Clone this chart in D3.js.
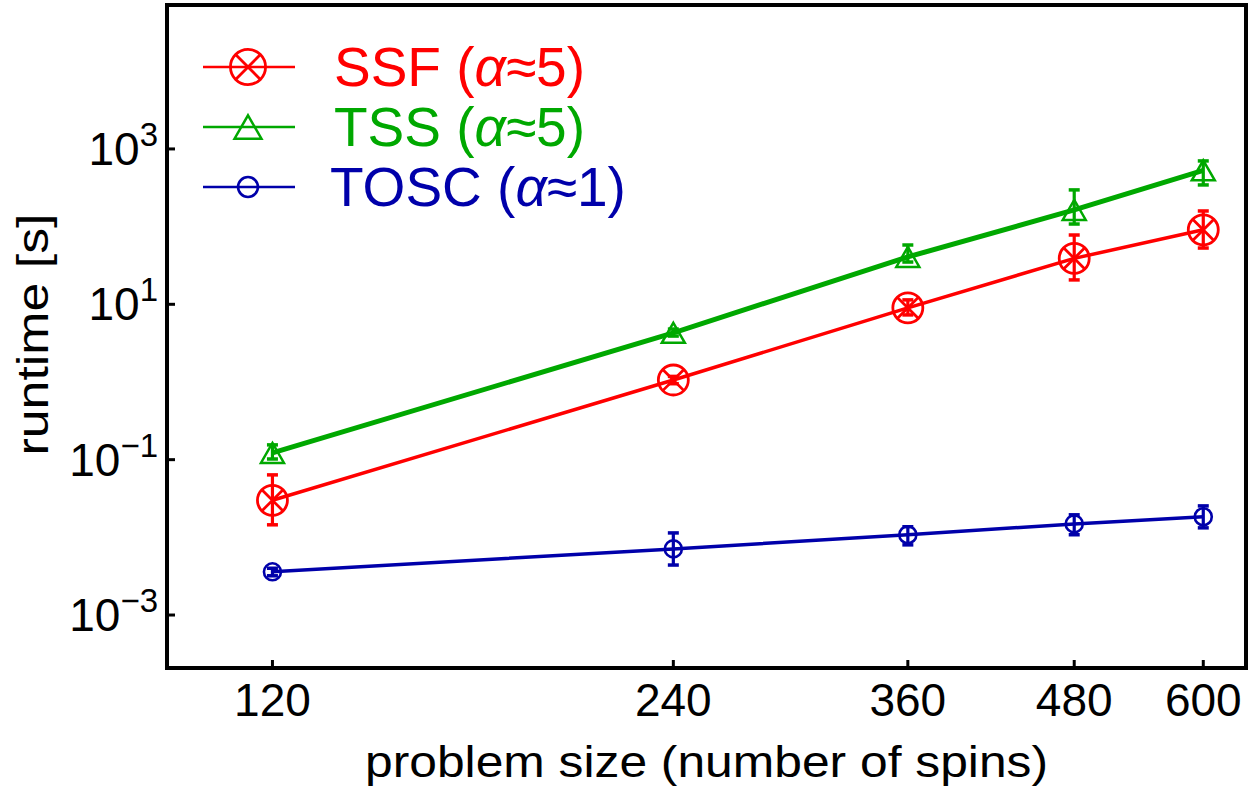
<!DOCTYPE html>
<html><head><meta charset="utf-8">
<script src="https://cdn.jsdelivr.net/npm/d3@7"></script>
<style>body{margin:0;background:#fff}svg{display:block}text{font-family:"Liberation Sans",Arial,sans-serif}</style>
</head><body><svg id="c" width="1250" height="790"></svg>
<script>
const sizes = [120, 240, 360, 480, 600];
const ssf    = [0.030, 1.06, 9.0, 39, 91];
const ssfLo  = [0.0145, 0.95, 7.3, 20.6, 53];
const ssfHi  = [0.0637, 1.18, 11.4, 78, 159];
const tss    = [0.122, 4.3, 40.7, 164, 530];
const tssLo  = [0.102, 3.9, 35, 108, 344];
const tssHi  = [0.155, 4.8, 58, 297, 701];
const tosc   = [0.0036, 0.0071, 0.0108, 0.0149, 0.0184];
const toscLo = [0.0032, 0.0044, 0.0080, 0.0108, 0.01325];
const toscHi = [0.0040, 0.0114, 0.0137, 0.0195, 0.0254];
const yTickExps = [-3, -1, 1, 3];
const xTicks = [120, 240, 360, 480, 600];
const seriesNames = ["SSF", "TSS", "TOSC"];
const alphas = ["5", "5", "1"];

const svg = d3.select("#c");
const L = 167, R = 1246, T = 5, B = 668;
const x = d3.scaleLog().domain([100, 646]).range([L, R]);
const y = d3.scaleLog().domain([Math.pow(10, -3.682), Math.pow(10, 4.853)]).range([B, T]);

const series = [
  {name: seriesNames[0], v: ssf, lo: ssfLo, hi: ssfHi, color: "#ff0000", lw: 3.5, marker: "ox", a: alphas[0]},
  {name: seriesNames[1], v: tss, lo: tssLo, hi: tssHi, color: "#00a800", lw: 5, marker: "tri", a: alphas[1]},
  {name: seriesNames[2], v: tosc, lo: toscLo, hi: toscHi, color: "#0000aa", lw: 3.5, marker: "o", a: alphas[2]}
];

function drawMarker(g, type, color, s) {
  if (type === "ox") {
    const r = 15 * s;
    g.append("circle").attr("r", r).attr("fill", "none").attr("stroke", color).attr("stroke-width", 2.8);
    const d = r * Math.SQRT1_2;
    g.append("path").attr("d", `M${-d},${-d}L${d},${d}M${-d},${d}L${d},${-d}`).attr("stroke", color).attr("stroke-width", 2.8);
  } else if (type === "tri") {
    const h = 10 * s, w = 11.5 * s;
    g.append("path").attr("d", `M0,${-h}L${w},${h}L${-w},${h}Z`).attr("fill", "none").attr("stroke", color).attr("stroke-width", 2.5);
  } else {
    g.append("circle").attr("r", 8.5 * s).attr("fill", "none").attr("stroke", color).attr("stroke-width", 2.6);
  }
}

const line = d3.line().x(d => x(d[0])).y(d => y(d[1]));
series.forEach(s => {
  const pts = sizes.map((xv, i) => [xv, s.v[i]]);
  svg.append("path").attr("d", line(pts)).attr("fill", "none").attr("stroke", s.color).attr("stroke-width", s.lw);
  sizes.forEach((xv, i) => {
    const g = svg.append("g").attr("transform", `translate(${x(xv)},${y(s.v[i])})`);
    drawMarker(g, s.marker, s.color, 1);
    const eg = svg.append("g").attr("stroke", s.color);
    const cx = x(xv), y1 = y(s.hi[i]), y2 = y(s.lo[i]);
    eg.append("line").attr("x1", cx).attr("x2", cx).attr("y1", y1).attr("y2", y2).attr("stroke-width", 3.2);
    eg.append("line").attr("x1", cx - 5.5).attr("x2", cx + 5.5).attr("y1", y1).attr("y2", y1).attr("stroke-width", 3.5);
    eg.append("line").attr("x1", cx - 5.5).attr("x2", cx + 5.5).attr("y1", y2).attr("y2", y2).attr("stroke-width", 3.5);
  });
});

// frame
svg.append("rect").attr("x", L).attr("y", T).attr("width", R - L).attr("height", B - T)
  .attr("fill", "none").attr("stroke", "#000").attr("stroke-width", 4);

// x ticks
const xa = svg.append("g");
xTicks.forEach(t => {
  xa.append("line").attr("x1", x(t)).attr("x2", x(t)).attr("y1", B).attr("y2", B - 8).attr("stroke", "#000").attr("stroke-width", 3);
  xa.append("text").attr("x", x(t)).attr("y", 716).attr("text-anchor", "middle").attr("font-size", 46).text(t);
});
// y ticks
const ya = svg.append("g");
yTickExps.forEach(e => {
  const v = Math.pow(10, e);
  ya.append("line").attr("x1", L).attr("x2", L + 8).attr("y1", y(v)).attr("y2", y(v)).attr("stroke", "#000").attr("stroke-width", 3);
  const t = ya.append("text").attr("x", 158).attr("y", y(v) + 16).attr("text-anchor", "end").attr("font-size", 46);
  t.append("tspan").text("10");
  t.append("tspan").attr("font-size", 33).attr("dy", -19).text(e < 0 ? "\u2212" + Math.abs(e) : String(e));
});

// axis labels
svg.append("text").attr("x", (L + R) / 2).attr("y", 777).attr("text-anchor", "middle").attr("font-size", 44)
  .attr("textLength", 683).attr("lengthAdjust", "spacingAndGlyphs").text("problem size (number of spins)");
svg.append("text").attr("transform", `translate(48,${(T + B) / 2 - 2}) rotate(-90)`).attr("text-anchor", "middle").attr("font-size", 44)
  .attr("textLength", 242).attr("lengthAdjust", "spacingAndGlyphs").text("runtime [s]");

// legend
const legY = [67, 127, 187];
series.forEach((s, i) => {
  const g = svg.append("g");
  g.append("line").attr("x1", 203).attr("x2", 295).attr("y1", legY[i]).attr("y2", legY[i]).attr("stroke", s.color).attr("stroke-width", 2.5);
  const mg = g.append("g").attr("transform", `translate(248,${legY[i]})`);
  drawMarker(mg, s.marker, s.color, 1.17);
  const t = g.append("text").attr("x", i === 2 ? 330 : 334).attr("y", legY[i] + 19).attr("font-size", 55).attr("fill", s.color);
  t.append("tspan").text(s.name + " (");
  t.append("tspan").attr("font-style", "italic").text("\u03b1");
  t.append("tspan").text("\u2248" + s.a + ")");
});
</script></body></html>
